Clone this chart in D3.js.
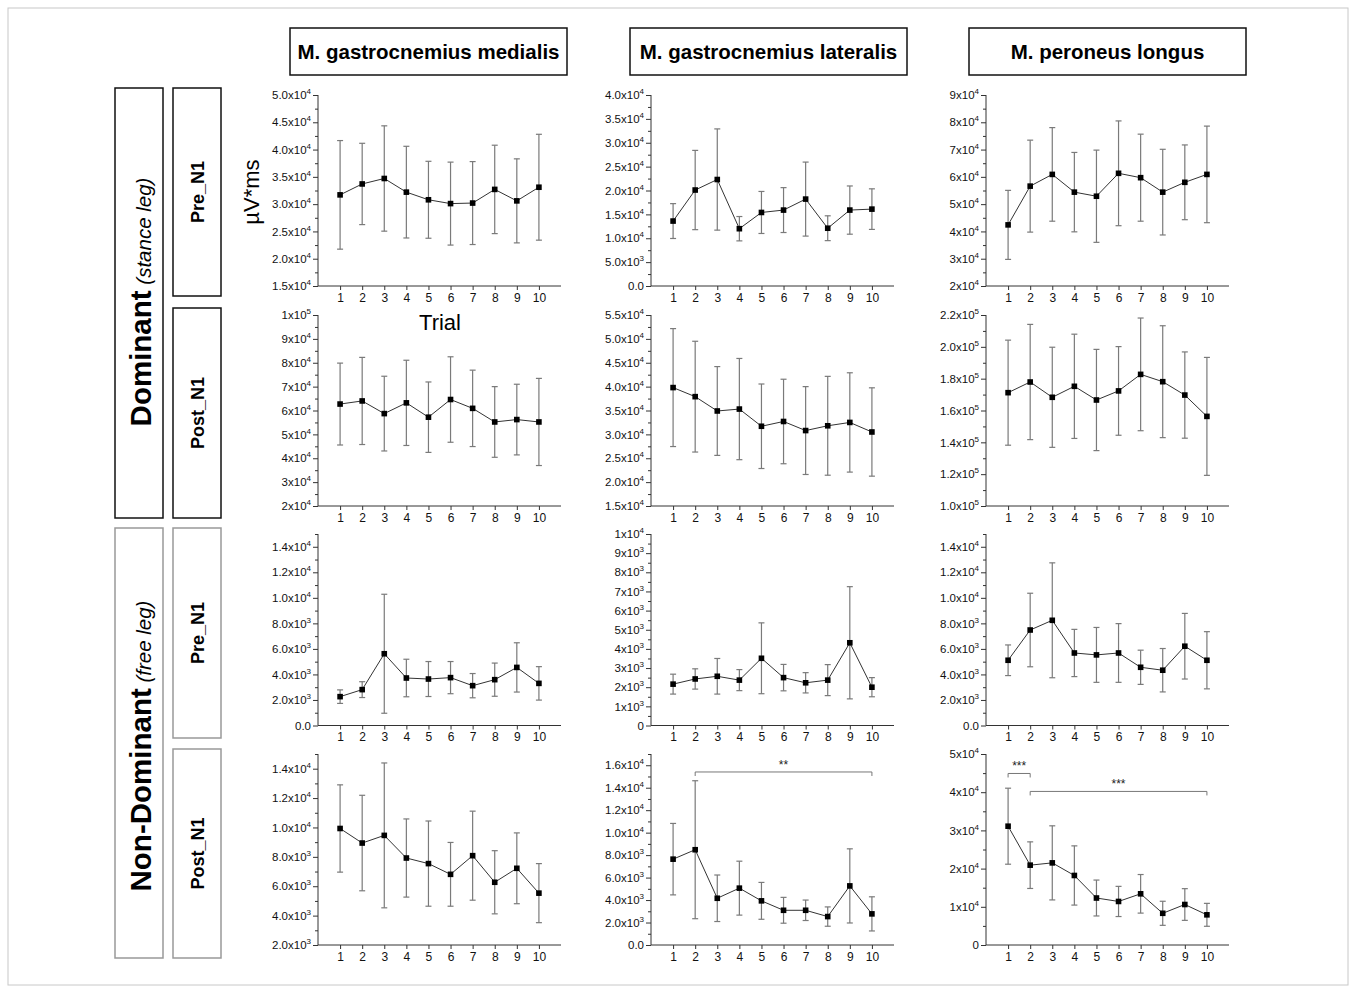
<!DOCTYPE html>
<html>
<head>
<meta charset="utf-8">
<script src="https://cdn.jsdelivr.net/npm/d3@7"></script>
<style>
body { margin: 0; background: #fff; }
text { font-family: Arial, "Liberation Sans", sans-serif; }
</style>
</head>
<body>
<script>
// trial numbers (x axis of every panel)
var trials = [1, 2, 3, 4, 5, 6, 7, 8, 9, 10];

// Dominant leg, Pre_N1
var gmDomPreMean = [31700, 33700, 34700, 32200, 30800, 30100, 30200, 32700, 30600, 33100];
var gmDomPreSD   = [9950, 7450, 9650, 8400, 7050, 7600, 7600, 8100, 7700, 9700];
var glDomPreMean = [13600, 20100, 22300, 12000, 15400, 15900, 18200, 12100, 15900, 16100];
var glDomPreSD   = [3650, 8300, 10600, 2550, 4400, 4700, 7750, 2600, 5050, 4250];
var plDomPreMean = [42400, 56600, 60900, 54400, 52900, 61300, 59700, 54400, 58000, 60900];
var plDomPreSD   = [12650, 16850, 17150, 14550, 16900, 19200, 15950, 15700, 13700, 17700];

// Dominant leg, Post_N1
var gmDomPostMean = [62700, 64000, 58700, 63200, 57200, 64600, 60900, 55200, 56200, 55200];
var gmDomPostSD   = [17150, 18250, 15650, 17850, 14750, 17900, 16000, 14800, 14800, 18250];
var glDomPostMean = [39800, 37900, 34900, 35300, 31700, 32700, 30800, 31800, 32500, 30500];
var glDomPostSD   = [12350, 11600, 9300, 10600, 8850, 8850, 9200, 10350, 10400, 9250];
var plDomPostMean = [171200, 177900, 168300, 175200, 166600, 172300, 182700, 178100, 169700, 156300];
var plDomPostSD   = [33000, 36200, 31450, 32750, 31800, 27850, 35400, 35150, 27100, 37050];

// Non-dominant leg, Pre_N1
var gmNonPreMean = [2260, 2810, 5620, 3720, 3640, 3750, 3120, 3590, 4550, 3300];
var gmNonPreSD   = [530, 620, 4660, 1470, 1370, 1260, 950, 1300, 1930, 1310];
var glNonPreMean = [2160, 2430, 2570, 2370, 3510, 2500, 2230, 2370, 4320, 2000];
var glNonPreSD   = [520, 530, 930, 550, 1850, 690, 530, 810, 2930, 500];
var plNonPreMean = [5110, 7480, 8240, 5680, 5530, 5680, 4560, 4330, 6210, 5110];
var plNonPreSD   = [1200, 2880, 4500, 1850, 2150, 2300, 1340, 1700, 2570, 2240];

// Non-dominant leg, Post_N1
var gmNonPostMean = [9930, 8940, 9460, 7920, 7540, 6810, 8080, 6270, 7220, 5530];
var gmNonPostSD   = [2970, 3250, 4930, 2660, 2900, 2170, 3030, 2150, 2410, 2010];
var glNonPostMean = [7640, 8480, 4160, 5060, 3930, 3090, 3090, 2530, 5260, 2770];
var glNonPostSD   = [3180, 6140, 2070, 2400, 1640, 1150, 910, 860, 3300, 1520];
var plNonPostMean = [31100, 20900, 21500, 18200, 12300, 11400, 13400, 8300, 10600, 7900];
var plNonPostSD   = [9950, 6100, 9700, 7750, 4700, 3950, 5050, 3150, 4150, 3000];

// y tick values for each panel
var ticksGmDomPre  = [15000, 20000, 25000, 30000, 35000, 40000, 45000, 50000];
var ticksGlDomPre  = [0, 5000, 10000, 15000, 20000, 25000, 30000, 35000, 40000];
var ticksPlDomPre  = [20000, 30000, 40000, 50000, 60000, 70000, 80000, 90000];
var ticksGmDomPost = [20000, 30000, 40000, 50000, 60000, 70000, 80000, 90000, 100000];
var ticksGlDomPost = [15000, 20000, 25000, 30000, 35000, 40000, 45000, 50000, 55000];
var ticksPlDomPost = [100000, 120000, 140000, 160000, 180000, 200000, 220000];
var ticksGmNonPre  = [0, 2000, 4000, 6000, 8000, 10000, 12000, 14000];
var ticksGlNonPre  = [0, 1000, 2000, 3000, 4000, 5000, 6000, 7000, 8000, 9000, 10000];
var ticksPlNonPre  = [0, 2000, 4000, 6000, 8000, 10000, 12000, 14000];
var ticksGmNonPost = [2000, 4000, 6000, 8000, 10000, 12000, 14000];
var ticksGlNonPost = [0, 2000, 4000, 6000, 8000, 10000, 12000, 14000, 16000];
var ticksPlNonPost = [0, 10000, 20000, 30000, 40000, 50000];

// significance brackets
var glNonPostSig = [{ from: 2, to: 10, at: 15400, label: "**" }];
var plNonPostSig = [{ from: 1, to: 2, at: 44900, label: "***" },
                    { from: 2, to: 10, at: 40200, label: "***" }];

var muscles = ["M. gastrocnemius medialis", "M. gastrocnemius lateralis", "M. peroneus longus"];

//layout
var w = 1356, h = 988;
var colX = [318, 651, 986];
var rowTop = [95, 315, 534, 754];
var rowBottom = [286, 506, 725.5, 945];
var plotW = 243;

var svg = d3.select("body").append("svg")
  .attr("width", w)
  .attr("height", h);

svg.append("rect")
  .attr("x", 8).attr("y", 8)
  .attr("width", 1340).attr("height", 977)
  .attr("fill", "none").attr("stroke", "#c8c8c8");

// panel list: row, col, data, y domain, ticks, decimals
var panels = [
  { row: 0, col: 0, mean: gmDomPreMean, sd: gmDomPreSD, dom: [15000, 50000], ticks: ticksGmDomPre, dec: 1 },
  { row: 0, col: 1, mean: glDomPreMean, sd: glDomPreSD, dom: [0, 40000], ticks: ticksGlDomPre, dec: 1 },
  { row: 0, col: 2, mean: plDomPreMean, sd: plDomPreSD, dom: [20000, 90000], ticks: ticksPlDomPre, dec: 0 },
  { row: 1, col: 0, mean: gmDomPostMean, sd: gmDomPostSD, dom: [20000, 100000], ticks: ticksGmDomPost, dec: 0 },
  { row: 1, col: 1, mean: glDomPostMean, sd: glDomPostSD, dom: [15000, 55000], ticks: ticksGlDomPost, dec: 1 },
  { row: 1, col: 2, mean: plDomPostMean, sd: plDomPostSD, dom: [100000, 220000], ticks: ticksPlDomPost, dec: 1 },
  { row: 2, col: 0, mean: gmNonPreMean, sd: gmNonPreSD, dom: [0, 15000], ticks: ticksGmNonPre, dec: 1 },
  { row: 2, col: 1, mean: glNonPreMean, sd: glNonPreSD, dom: [0, 10000], ticks: ticksGlNonPre, dec: 0 },
  { row: 2, col: 2, mean: plNonPreMean, sd: plNonPreSD, dom: [0, 15000], ticks: ticksPlNonPre, dec: 1 },
  { row: 3, col: 0, mean: gmNonPostMean, sd: gmNonPostSD, dom: [2000, 15000], ticks: ticksGmNonPost, dec: 1 },
  { row: 3, col: 1, mean: glNonPostMean, sd: glNonPostSD, dom: [0, 17000], ticks: ticksGlNonPost, dec: 1, sig: glNonPostSig },
  { row: 3, col: 2, mean: plNonPostMean, sd: plNonPostSD, dom: [0, 50000], ticks: ticksPlNonPost, dec: 0, sig: plNonPostSig }
];

// "5.0x10^4" style label, exponent as superscript
function sciLabel(sel, dec) {
  sel.each(function(v) {
    var t = d3.select(this).text(null);
    if (v === 0) {
      t.text(dec ? "0.0" : "0");
      return;
    }
    var e = Math.floor(Math.log10(v) + 1e-9);
    var m = v / Math.pow(10, e);
    t.append("tspan").text(m.toFixed(dec) + "x10");
    t.append("tspan").attr("dy", -5).attr("font-size", 8).text(e);
  });
}

panels.forEach(function(p) {
  var g = svg.append("g").attr("transform", "translate(" + colX[p.col] + ",0)");
  var x = d3.scaleLinear().domain([0, 11]).range([0, plotW]);
  var y = d3.scaleLinear().domain(p.dom).range([rowBottom[p.row], rowTop[p.row]]);
  var step = p.ticks[1] - p.ticks[0];
  var minors = d3.range(p.dom[0] + step / 2, p.dom[1] + 1, step);

  // minor ticks
  g.append("g")
    .call(d3.axisLeft(y).tickValues(minors).tickSize(3).tickFormat(""))
    .call(function(a) { a.select(".domain").remove(); });

  var ya = g.append("g")
    .call(d3.axisLeft(y).tickValues(p.ticks).tickSize(5).tickPadding(2));
  ya.selectAll(".tick text").attr("font-size", 11.5).attr("fill", "#111")
    .call(sciLabel, p.dec);
  ya.select(".domain").attr("d", "M0," + y.range()[0] + "V" + y.range()[1]);

  var xa = g.append("g")
    .attr("transform", "translate(0," + rowBottom[p.row] + ")")
    .call(d3.axisBottom(x).tickValues(trials).tickSize(4).tickPadding(3));
  xa.select(".domain").attr("d", "M0,0H" + plotW);
  xa.selectAll(".tick text").attr("font-size", 12).attr("fill", "#111");

  g.selectAll(".domain, .tick line").attr("stroke", "#333");

  // error bars
  var eb = g.selectAll(".eb").data(p.mean).enter().append("g").attr("class", "eb");
  eb.append("line")
    .attr("x1", function(d, i) { return x(trials[i]); })
    .attr("x2", function(d, i) { return x(trials[i]); })
    .attr("y1", function(d, i) { return y(d - p.sd[i]); })
    .attr("y2", function(d, i) { return y(d + p.sd[i]); });
  [-1, 1].forEach(function(s) {
    eb.append("line")
      .attr("x1", function(d, i) { return x(trials[i]) - 3; })
      .attr("x2", function(d, i) { return x(trials[i]) + 3; })
      .attr("y1", function(d, i) { return y(d + s * p.sd[i]); })
      .attr("y2", function(d, i) { return y(d + s * p.sd[i]); });
  });
  eb.selectAll("line").attr("stroke", "#7a7a7a").attr("stroke-width", 1.2);

  var line = d3.line()
    .x(function(d, i) { return x(trials[i]); })
    .y(function(d) { return y(d); });
  g.append("path").datum(p.mean)
    .attr("d", line)
    .attr("fill", "none")
    .attr("stroke", "#333")
    .attr("stroke-width", 1);

  g.selectAll(".pt").data(p.mean).enter().append("rect")
    .attr("x", function(d, i) { return x(trials[i]) - 2.8; })
    .attr("y", function(d) { return y(d) - 2.8; })
    .attr("width", 5.6).attr("height", 5.6)
    .attr("fill", "#000");

  if (p.sig) {
    p.sig.forEach(function(s) {
      var yy = y(s.at);
      g.append("path")
        .attr("d", "M" + x(s.from) + "," + (yy + 4) + "V" + yy + "H" + x(s.to) + "V" + (yy + 4))
        .attr("fill", "none").attr("stroke", "#777").attr("stroke-width", 1);
      g.append("text")
        .attr("x", (x(s.from) + x(s.to)) / 2)
        .attr("y", yy - 3)
        .attr("text-anchor", "middle")
        .attr("font-size", 12)
        .attr("fill", "#222")
        .text(s.label);
    });
  }
});

// column headers
var headX = [290, 630, 969];
headX.forEach(function(hx, i) {
  svg.append("rect")
    .attr("x", hx).attr("y", 28).attr("width", 277).attr("height", 47)
    .attr("fill", "none").attr("stroke", "#111").attr("stroke-width", 1.5);
  svg.append("text")
    .attr("x", hx + 138.5).attr("y", 59)
    .attr("text-anchor", "middle")
    .attr("font-size", 20.5).attr("font-weight", "bold")
    .text(muscles[i]);
});

// row group boxes
var groups = [
  { y: 88, hgt: 430, main: "Dominant", sub: " (stance leg)", stroke: "#111", cy: 302 },
  { y: 528, hgt: 430, main: "Non-Dominant", sub: " (free leg)", stroke: "#999", cy: 746 }
];
groups.forEach(function(gr) {
  svg.append("rect")
    .attr("x", 115).attr("y", gr.y).attr("width", 48).attr("height", gr.hgt)
    .attr("fill", "none").attr("stroke", gr.stroke).attr("stroke-width", 1.5);
  var t = svg.append("text")
    .attr("transform", "translate(151," + gr.cy + ") rotate(-90)")
    .attr("text-anchor", "middle");
  t.append("tspan").attr("font-size", 29.5).attr("font-weight", "bold").text(gr.main);
  t.append("tspan").attr("font-size", 20.5).attr("font-style", "italic").text(gr.sub);
});

var conds = [
  { y: 88, hgt: 208, label: "Pre_N1", stroke: "#111" },
  { y: 308, hgt: 210, label: "Post_N1", stroke: "#111" },
  { y: 528, hgt: 210, label: "Pre_N1", stroke: "#999" },
  { y: 749, hgt: 209, label: "Post_N1", stroke: "#999" }
];
conds.forEach(function(c) {
  svg.append("rect")
    .attr("x", 173).attr("y", c.y).attr("width", 48).attr("height", c.hgt)
    .attr("fill", "none").attr("stroke", c.stroke).attr("stroke-width", 1.5);
  svg.append("text")
    .attr("transform", "translate(204," + (c.y + c.hgt / 2) + ") rotate(-90)")
    .attr("text-anchor", "middle")
    .attr("font-size", 18).attr("font-weight", "bold")
    .text(c.label);
});

// unit and x label
svg.append("text")
  .attr("transform", "translate(259,192) rotate(-90)")
  .attr("text-anchor", "middle")
  .attr("font-size", 22)
  .text("µV*ms");

svg.append("text")
  .attr("x", 440).attr("y", 330)
  .attr("text-anchor", "middle")
  .attr("font-size", 22)
  .text("Trial");
</script>
</body>
</html>
